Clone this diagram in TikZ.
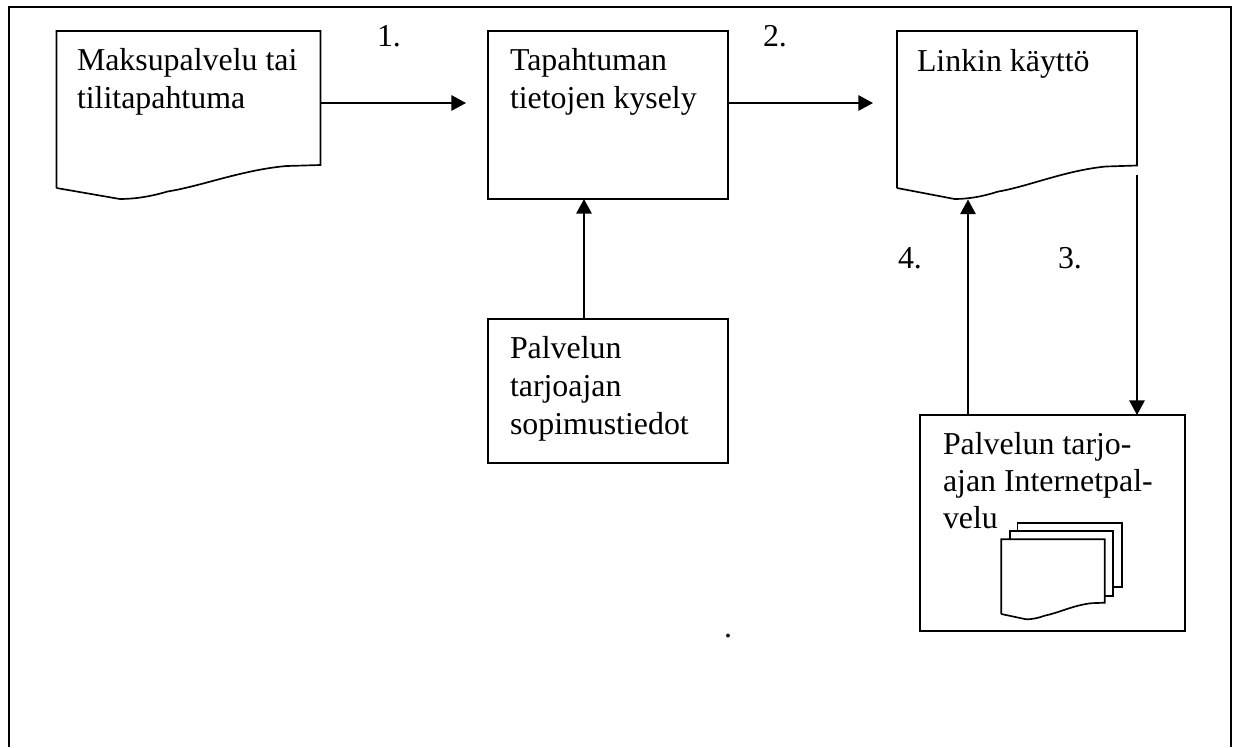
\documentclass[tikz,border=0pt]{standalone}
\usepackage{fontspec}
\setmainfont{Liberation Serif}
\usetikzlibrary{arrows.meta}
\tikzset{
  x=0.75pt,y=-0.75pt,
  ln/.style={line width=1.25pt,draw=black},
  flow/.style={ln,-{Triangle[length=11pt,width=11.6pt]},shorten >=0pt,shorten <=0pt},
  boxst/.style={ln,fill=white,inner sep=0pt,outer sep=0pt,minimum width=#1},
  hold/.style={inner sep=0pt,outer sep=0pt},
  txt/.style={inner sep=0pt,outer sep=0pt,anchor=north west,align=left,font=\fontsize{23.9}{28.2}\selectfont},
  txtb/.style={txt,font=\fontsize{23.9}{27.6}\selectfont},
}
\newcommand{\docpath}[6]{% left top right rightbottom leftbottom lowest
  \draw[ln,line join=miter,fill=white] (#1,#5) -- (#1,#2) -- (#3,#2) -- (#3,#4)
   -- ({#3-0.13*(#3-#1)},{#4+0.03*(#6-#4)})
   .. controls ({#3-0.3*(#3-#1)},{#4+0.15*(#6-#4)}) and ({#3-0.45*(#3-#1)},{#4+0.62*(#6-#4)}) .. ({#1+0.42*(#3-#1)},{#4+0.78*(#6-#4)})
   .. controls ({#1+0.36*(#3-#1)},{#6-0.08*(#6-#4)}) and ({#1+0.3*(#3-#1)},#6) .. ({#1+0.24*(#3-#1)},#6)
   -- (#1,#5);
}
\begin{document}
\begin{tikzpicture}
\useasboundingbox (0,0) rectangle (1239,747);
% outer frame
\coordinate (fbl) at (8.5,747);
\coordinate (ftl) at (8.5,6.5);
\coordinate (ftr) at (1231,6.5);
\coordinate (fbr) at (1231,747);
\draw[line width=1.5pt] (fbl) -- (ftl) -- (ftr) -- (fbr);
% documents
\docpath{56.5}{31}{320.5}{165}{188}{199}
\node[hold,minimum width=264*0.75pt,minimum height=168*0.75pt] (maksu) at (188.5,115) {};
\docpath{897}{31}{1137}{165.5}{188}{199}
\node[hold,minimum width=240*0.75pt,minimum height=168*0.75pt] (linkki) at (1017,115) {};
% boxes
\node[boxst=180pt,minimum height=126pt] (tapahtuma) at (608,115) {};
\node[boxst=180pt,minimum height=108pt] (sopimus) at (608,391) {};
\node[boxst=198.75pt,minimum height=162pt] (inet) at (1052.5,523) {};
% small stacked documents
\draw[ln] (1017.5,531) -- (1017.5,523) -- (1121.7,523) -- (1121.7,587) -- (1112.7,587);
\draw[ln] (1010,539) -- (1010,531) -- (1112.7,531) -- (1112.7,595.7) -- (1104.7,595.7);
\docpath{1001.3}{539.3}{1104.7}{602.7}{614}{619.3}
% connectors
\coordinate (linkout) at (1137,175);
\coordinate (upa) at (584,319);
\coordinate (upb) at (584,199);
\coordinate (backa) at (968,415);
\coordinate (backb) at (968,199.5);
\draw[flow] (maksu.east |- 0,103) -- (466,103);
\draw[flow] (tapahtuma.east |- 0,103) -- (873,103);
\draw[flow] (upa) -- (upb);
\draw[flow] (linkout) -- (linkout |- inet.north);
\draw[flow] (backa) -- (backb);
% texts
\node[txt] (t1) at (77,44.5) {\strut Maksupalvelu tai\\tilitapahtuma};
\node[txt] (t2) at (510,44.5) {\strut Tapahtuman\\tietojen kysely};
\node[txt] (t3) at (917,45) {\strut Linkin käyttö};
\node[txt] (t4) at (510,332.5) {\strut Palvelun\\tarjoajan\\sopimustiedot};
\node[txt,txtb] (t5) at (943,429) {\strut Palvelun tarjo-\\ajan Internetpal-\\velu};
\node[txt] (n1) at (377,20.5) {\strut 1.};
\node[txt] (n2) at (763,20.5) {\strut 2.};
\node[txt] (n4) at (898,242.5) {\strut 4.};
\node[txt] (n3) at (1058,242.5) {\strut 3.};
\node[txt] (dot) at (724,611) {\strut .};
\end{tikzpicture}
\end{document}
